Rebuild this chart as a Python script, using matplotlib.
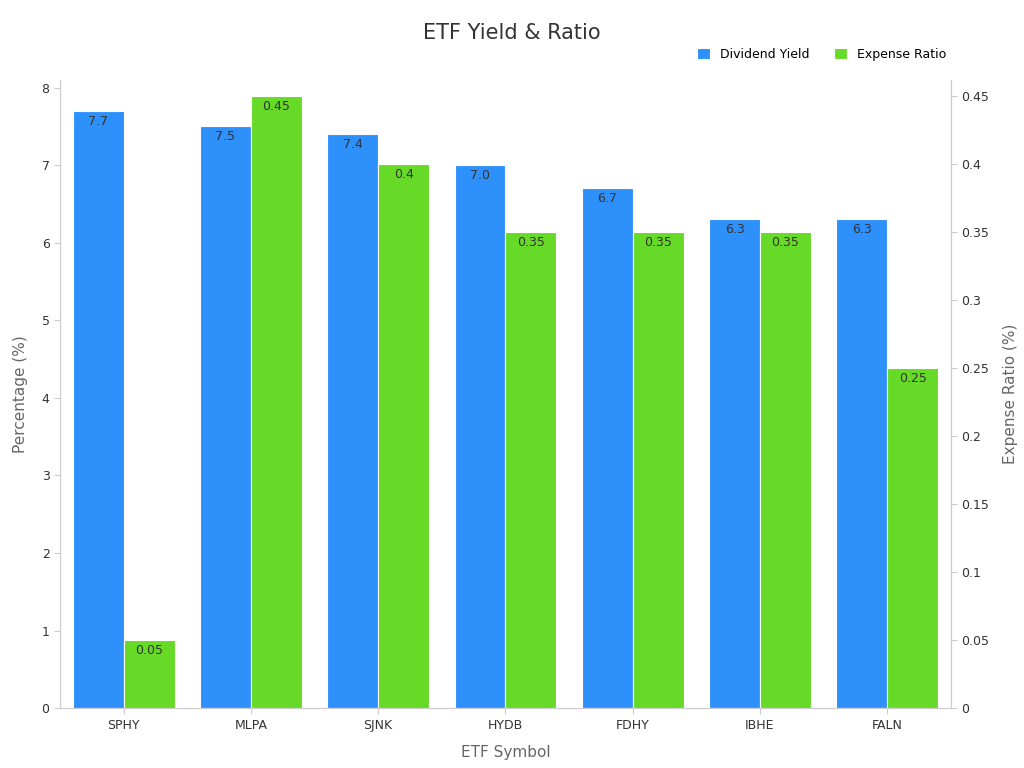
import matplotlib.pyplot as plt
import numpy as np

symbols = ["SPHY", "MLPA", "SJNK", "HYDB", "FDHY", "IBHE", "FALN"]
dividend_yield = [7.7, 7.5, 7.4, 7.0, 6.7, 6.3, 6.3]
expense_ratio = [0.05, 0.45, 0.4, 0.35, 0.35, 0.35, 0.25]

blue = "#2E90FA"
green = "#66DA26"

fig = plt.figure(figsize=(10.24, 7.68), dpi=100)
ax = fig.add_axes([0.0586, 0.078, 0.870, 0.818])
ax2 = ax.twinx()
x = np.arange(len(symbols))
w = 0.4
b1 = ax.bar(x - w/2, dividend_yield, w, color=blue, edgecolor="white", linewidth=0.8, label="Dividend Yield")
b2 = ax2.bar(x + w/2, expense_ratio, w, color=green, edgecolor="white", linewidth=0.8, label="Expense Ratio")
for r, v in zip(b1, dividend_yield):
    ax.text(r.get_x() + r.get_width()/2, v - 0.05, f"{v:.1f}", ha="center", va="top", fontsize=9, color="#333333")
for r, v in zip(b2, expense_ratio):
    ax2.text(r.get_x() + r.get_width()/2, v - 0.003, f"{v:g}", ha="center", va="top", fontsize=9, color="#333333")

ax.set_xlim(-0.5, 6.5)
ax.set_ylim(0, 8.1)
ax2.set_ylim(0, 0.4617)
ax2.set_yticks([0, 0.05, 0.1, 0.15, 0.2, 0.25, 0.3, 0.35, 0.4, 0.45])
ax2.set_yticklabels(["0", "0.05", "0.1", "0.15", "0.2", "0.25", "0.3", "0.35", "0.4", "0.45"])
ax.set_xticks(x)
ax.set_xticklabels(symbols)
for a in (ax, ax2):
    for s in ("top",):
        a.spines[s].set_visible(False)
    for s in ("left", "right", "bottom"):
        a.spines[s].set_color("#cccccc")
    a.tick_params(colors="#333333", labelsize=9, length=4)
    a.tick_params(axis="both", color="#cccccc")
ax.set_xlabel("ETF Symbol", fontsize=11, color="#666666", labelpad=10)
ax.set_ylabel("Percentage (%)", fontsize=11, color="#666666", labelpad=10)
ax2.set_ylabel("Expense Ratio (%)", fontsize=11, color="#666666", labelpad=10)
fig.suptitle("ETF Yield & Ratio", fontsize=15, color="#333333", y=0.97)
h = [b1, b2]
fig.legend(h, ["Dividend Yield", "Expense Ratio"], loc="upper right", bbox_to_anchor=(0.935, 0.952),
           ncol=2, frameon=False, fontsize=9, handlelength=1, handleheight=1, columnspacing=2)
fig.savefig("out.png")
